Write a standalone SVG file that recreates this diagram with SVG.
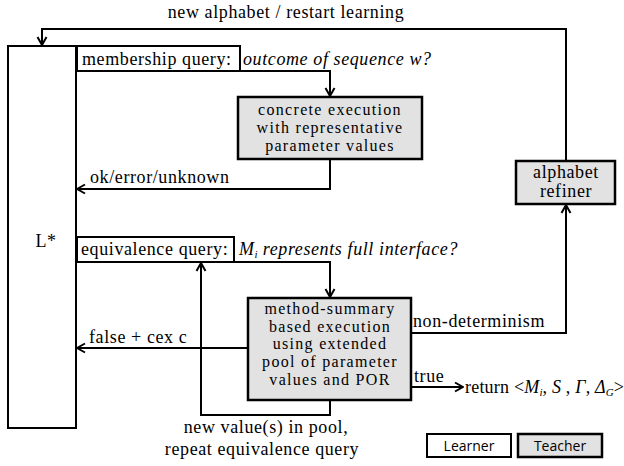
<svg xmlns="http://www.w3.org/2000/svg" width="624" height="466" viewBox="0 0 624 466">
<style>
text{font-family:"Liberation Serif","Times New Roman",serif;font-size:18px;letter-spacing:0.6px;fill:#000}
.it{font-style:italic}
.c{text-anchor:middle}
.m{font-size:16px;letter-spacing:1.3px}
.box{fill:#fff;stroke:#000;stroke-width:2}
.gbox{fill:#e2e2e2;stroke:#000;stroke-width:2.5}
.ln{fill:none;stroke:#000;stroke-width:2}
.sans{font-family:"Open Sans","Liberation Sans",sans-serif;font-size:14px;letter-spacing:0}
.sub{font-size:11px;letter-spacing:0}
</style>
<defs>
<marker id="ah" viewBox="0 0 12 12" refX="11" refY="6" markerWidth="12" markerHeight="12" markerUnits="userSpaceOnUse" orient="auto">
<path d="M3,1.5 L11,6 L3,10.5" fill="none" stroke="#000" stroke-width="2"/>
</marker>
</defs>
<g id="connectors">
<path class="ln" d="M566,160 V29 H42 V45" marker-end="url(#ah)"/>
<path class="ln" d="M240,71 H330 V96" marker-end="url(#ah)"/>
<path class="ln" d="M330,159 V189 H77" marker-end="url(#ah)"/>
<path class="ln" d="M234,262 H330 V297" marker-end="url(#ah)"/>
<path class="ln" d="M248,348 H77" marker-end="url(#ah)"/>
<path class="ln" d="M330,400 V415 H201 V263" marker-end="url(#ah)"/>
<path class="ln" d="M411,333 H566 V205" marker-end="url(#ah)"/>
<path class="ln" d="M411,387 H463" marker-end="url(#ah)"/>
<text x="286" y="18" class="c">new alphabet / restart learning</text>
<text x="90" y="183">ok/error/unknown</text>
<text x="89" y="343">false + cex c</text>
<text x="413" y="327">non-determinism</text>
<text x="414" y="382">true</text>
<text x="465" y="393" style="letter-spacing:0.2px">return &lt;<tspan class="it">M</tspan><tspan class="it sub" dy="3">i</tspan><tspan dy="-3">, </tspan><tspan class="it">S</tspan> , <tspan class="it">Γ</tspan>, <tspan class="it">Δ</tspan><tspan class="it sub" dy="3">G</tspan><tspan dy="-3">&gt;</tspan></text>
<text x="266" y="433" class="c">new value(s) in pool,</text>
<text x="262" y="455" class="c">repeat equivalence query</text>
</g>
<g id="lstar">
<rect class="box" x="8" y="46" width="68" height="382"/>
<text x="46" y="247" class="c">L*</text>
</g>
<g id="membership">
<rect class="box" x="77" y="46" width="163" height="25"/>
<text x="82" y="65">membership query:</text>
<text x="243" y="65" class="it">outcome of sequence w?</text>
</g>
<g id="concrete">
<rect class="gbox" x="238" y="97" width="184" height="62"/>
<text x="330" y="115" class="c m">concrete execution</text>
<text x="330" y="133" class="c m">with representative</text>
<text x="330" y="151" class="c m">parameter values</text>
</g>
<g id="equivalence">
<rect class="box" x="77" y="237" width="157" height="25"/>
<text x="81" y="255">equivalence query:</text>
<text x="239" y="255" class="it">M<tspan class="sub" dy="3">i</tspan><tspan dy="-3"> represents full interface?</tspan></text>
</g>
<g id="method">
<rect class="gbox" x="248" y="298" width="163" height="102"/>
<text x="330" y="314" class="c m">method-summary</text>
<text x="330" y="331.7" class="c m">based execution</text>
<text x="330" y="349.4" class="c m">using extended</text>
<text x="330" y="367.1" class="c m">pool of parameter</text>
<text x="330" y="384.8" class="c m">values and POR</text>
</g>
<g id="refiner">
<rect class="gbox" x="516" y="161" width="99" height="43"/>
<text x="566" y="178" class="c">alphabet</text>
<text x="566" y="197" class="c">refiner</text>
</g>
<g id="legend-learner">
<rect class="box" x="427" y="434" width="84" height="23"/>
<text x="469" y="451" class="c sans">Learner</text>
</g>
<g id="legend-teacher">
<rect class="gbox" x="518" y="434" width="84" height="23"/>
<text x="560" y="451" class="c sans">Teacher</text>
</g>
</svg>
